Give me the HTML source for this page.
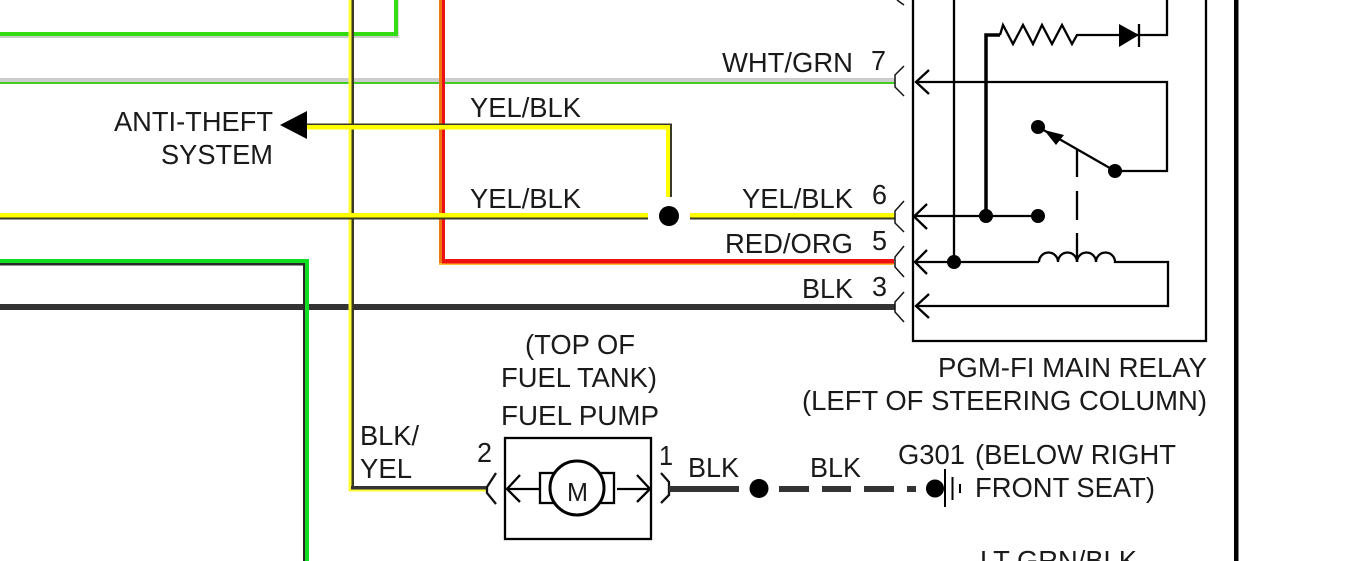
<!DOCTYPE html>
<html>
<head>
<meta charset="utf-8">
<style>
html,body{margin:0;padding:0;background:#fff;width:1362px;height:561px;overflow:hidden}
svg{display:block}
text{font-family:"Liberation Sans",Arial,sans-serif;font-size:28px;fill:#1a1a1a}
</style>
</head>
<body>
<svg width="1362" height="561" viewBox="0 0 1362 561" xmlns="http://www.w3.org/2000/svg">
<!-- top green wire -->
<rect x="0" y="36" width="399" height="2" fill="#ccc"/>
<rect x="398" y="0" width="1" height="37" fill="#ddd"/>
<rect x="0" y="32" width="398" height="4" fill="#33dd11"/>
<rect x="394" y="0" width="4" height="36" fill="#33dd11"/>
<!-- WHT/GRN -->
<rect x="0" y="78" width="895" height="4" fill="#ccc"/>
<rect x="0" y="82" width="895" height="2" fill="#44cc22"/>
<!-- BLK horizontal -->
<rect x="0" y="304" width="895" height="6" fill="#333"/>
<!-- lower-left green -->
<rect x="0" y="263" width="305" height="2.5" fill="#2a2a2a"/>
<rect x="303" y="263" width="2" height="298" fill="#2a2a2a"/>
<rect x="0" y="259" width="309" height="4" fill="#11dd22"/>
<rect x="305" y="259" width="4" height="302" fill="#11dd22"/>
<!-- red/org -->
<rect x="439" y="0" width="3" height="265" fill="#ee7711"/>
<rect x="439" y="263" width="455" height="2" fill="#ffbb33"/>
<rect x="442" y="0" width="3" height="263" fill="#ee1111"/>
<rect x="442" y="259" width="452" height="4.5" fill="#ee1111"/>
<!-- BLK/YEL vertical -->
<rect x="348.5" y="0" width="3" height="491.5" fill="#ffff33"/>
<rect x="348.5" y="489.5" width="137.5" height="2" fill="#ffff33"/>
<rect x="351.5" y="0" width="2.5" height="489" fill="#3a3a22"/>
<rect x="351" y="486" width="135" height="3.5" fill="#333"/>
<!-- YEL/BLK top branch -->
<rect x="307" y="123.5" width="365" height="1.5" fill="#3a3a22"/>
<rect x="307" y="125" width="363" height="4.5" fill="#ffff00"/>
<rect x="670" y="123.5" width="2" height="73.5" fill="#3a3a22"/>
<rect x="666" y="125" width="4" height="72" fill="#ffff00"/>
<!-- main YEL/BLK -->
<rect x="0" y="213" width="648" height="4.5" fill="#ffff00"/>
<rect x="0" y="217.5" width="648" height="2" fill="#3a3a22"/>
<rect x="690" y="213" width="205" height="4.5" fill="#ffff00"/>
<rect x="690" y="217.5" width="205" height="2" fill="#3a3a22"/>
<circle cx="669" cy="216" r="10" fill="#000"/>
<polygon points="280,125 307,111 307,139" fill="#000"/>

<!-- thick right border -->
<rect x="1234" y="0" width="4.5" height="561" fill="#000"/>

<!-- relay box -->
<g fill="none" stroke="#000" stroke-width="2.3">
<path d="M913 0V341H1206V0"/>
<path d="M954 0V262"/>
<path d="M916 82H1167V171H1115"/>
<path d="M929 70L916 82L929 94"/>
<path d="M914 216H1038"/>
<path d="M927 204L914 216.5L927 229"/>
<path d="M915 262H1039"/>
<path d="M927 250L915 262L927 274"/>
<path d="M1039 262A9.5 9.5 0 0 1 1058 262A9.5 9.5 0 0 1 1077 262A9.5 9.5 0 0 1 1096 262A9.5 9.5 0 0 1 1115 262H1168V306H916"/>
<path d="M929 294L916 306L929 318"/>
<path d="M1000 35L1003 25L1013 44L1023 25L1033 44L1042 25L1052 44L1062 25L1072 44L1077 35H1167V0"/>
<path d="M1139 24V47"/>
<path d="M1115 171L1040 128"/>
<path d="M1077 150V177M1077 191V220M1077 233V262"/>
</g>
<path d="M986 216V35H1000" fill="none" stroke="#000" stroke-width="3.5"/>
<polygon points="1119,24 1139,35 1119,47" fill="#000"/>
<polygon points="1044,130 1064,135 1056,145" fill="#000"/>
<g fill="#000">
<circle cx="954" cy="262" r="7"/>
<circle cx="986" cy="216" r="7"/>
<circle cx="1038" cy="216" r="7"/>
<circle cx="1038" cy="127" r="7"/>
<circle cx="1115" cy="171" r="7"/>
</g>
<!-- connector brackets -->
<g fill="none" stroke="#111" stroke-width="1.5">
<path d="M904 66L895 75V87L904 96"/>
<path d="M904 201L895 211V223L904 232"/>
<path d="M904 246L895 257V267L904 277"/>
<path d="M904 292L895 302V312L904 322"/>
<path d="M897 0L904 5"/>
</g>
<g fill="none" stroke="#111" stroke-width="2.3">
<path d="M496 473L487 487V493L496 504"/>
<path d="M661 473L669 482V495L661 503"/>
</g>

<!-- fuel pump -->
<g fill="none" stroke="#000" stroke-width="2.3">
<rect x="505" y="438" width="146" height="101"/>
<rect x="540" y="473" width="22" height="30"/>
<rect x="592" y="473" width="22" height="30"/>
<path d="M507 489H540"/>
<path d="M520 475L507 489L520 502"/>
<path d="M617 489H650"/>
<path d="M637 475L650 489L637 502"/>
</g>
<circle cx="577" cy="488" r="27" fill="#fff" stroke="#000" stroke-width="3"/>
<text x="567" y="501" style="font-size:26px" textLength="21" lengthAdjust="spacingAndGlyphs">M</text>

<!-- ground wire -->
<rect x="669" y="486" width="70" height="6" fill="#333"/>
<circle cx="759" cy="488.5" r="9.5" fill="#000"/>
<rect x="779" y="486" width="30" height="6" fill="#333"/>
<rect x="822" y="486" width="29" height="6" fill="#333"/>
<rect x="864" y="486" width="30" height="6" fill="#333"/>
<rect x="907" y="486" width="9" height="6" fill="#333"/>
<circle cx="935" cy="488.5" r="9" fill="#000"/>
<g fill="#000">
<rect x="944" y="469" width="2" height="38"/>
<rect x="951.5" y="477" width="2" height="23"/>
<rect x="959" y="484" width="2" height="9"/>
</g>

<!-- labels -->
<text x="722" y="72" textLength="131" lengthAdjust="spacingAndGlyphs">WHT/GRN</text>
<text x="871" y="70" textLength="15" lengthAdjust="spacingAndGlyphs">7</text>
<text x="470" y="117" textLength="111" lengthAdjust="spacingAndGlyphs">YEL/BLK</text>
<text x="470" y="208" textLength="111" lengthAdjust="spacingAndGlyphs">YEL/BLK</text>
<text x="742" y="208" textLength="111" lengthAdjust="spacingAndGlyphs">YEL/BLK</text>
<text x="872" y="204" textLength="15" lengthAdjust="spacingAndGlyphs">6</text>
<text x="725" y="253" textLength="128" lengthAdjust="spacingAndGlyphs">RED/ORG</text>
<text x="872" y="250" textLength="15" lengthAdjust="spacingAndGlyphs">5</text>
<text x="802" y="298" textLength="51" lengthAdjust="spacingAndGlyphs">BLK</text>
<text x="872" y="296" textLength="15" lengthAdjust="spacingAndGlyphs">3</text>
<text x="114" y="131" textLength="159" lengthAdjust="spacingAndGlyphs">ANTI-THEFT</text>
<text x="161" y="164" textLength="112" lengthAdjust="spacingAndGlyphs">SYSTEM</text>
<text x="525" y="354" textLength="110" lengthAdjust="spacingAndGlyphs">(TOP OF</text>
<text x="501" y="387" textLength="156" lengthAdjust="spacingAndGlyphs">FUEL TANK)</text>
<text x="501" y="425" textLength="158" lengthAdjust="spacingAndGlyphs">FUEL PUMP</text>
<text x="938" y="377" textLength="269" lengthAdjust="spacingAndGlyphs">PGM-FI MAIN RELAY</text>
<text x="802" y="410" textLength="405" lengthAdjust="spacingAndGlyphs">(LEFT OF STEERING COLUMN)</text>
<text x="360" y="445" textLength="59" lengthAdjust="spacingAndGlyphs">BLK/</text>
<text x="360" y="478" textLength="52" lengthAdjust="spacingAndGlyphs">YEL</text>
<text x="477" y="462" textLength="15" lengthAdjust="spacingAndGlyphs">2</text>
<text x="659" y="465" textLength="14" lengthAdjust="spacingAndGlyphs">1</text>
<text x="688" y="477" textLength="51" lengthAdjust="spacingAndGlyphs">BLK</text>
<text x="810" y="477" textLength="51" lengthAdjust="spacingAndGlyphs">BLK</text>
<text x="898" y="464" textLength="67" lengthAdjust="spacingAndGlyphs">G301</text>
<text x="975" y="464" textLength="201" lengthAdjust="spacingAndGlyphs">(BELOW RIGHT</text>
<text x="975" y="497" textLength="180" lengthAdjust="spacingAndGlyphs">FRONT SEAT)</text>
<text x="980" y="570" textLength="157" lengthAdjust="spacingAndGlyphs">LT GRN/BLK</text>
</svg>
</body>
</html>
